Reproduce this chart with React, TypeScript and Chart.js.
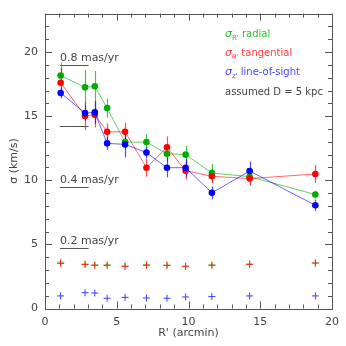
import React, { useEffect, useRef } from "react";
import { Chart, registerables } from "chart.js";
Chart.register(...registerables);

const radius = [1.09, 2.79, 3.47, 4.33, 5.58, 7.07, 8.5, 9.8, 11.63, 14.26, 18.84];
const sigmaR = [18.17, 17.25, 17.33, 15.63, 12.98, 12.98, 12.06, 12.0, 10.57, 10.28, 8.89];
const sigmaRErr = [1.0, 1.35, 1.2, 0.75, 0.5, 0.65, 0.6, 0.7, 0.7, 0.7, 0.3];
const sigmaT = [17.61, 15.01, 15.12, 13.78, 13.78, 10.98, 12.57, 10.75, 10.31, 10.13, 10.49];
const sigmaTErr = [1.15, 1.1, 1.0, 0.65, 0.7, 0.7, 0.85, 0.7, 0.55, 0.5, 0.7];
const sigmaZ = [16.81, 15.24, 15.3, 12.88, 12.8, 12.16, 10.98, 10.98, 9.02, 10.72, 8.05];
const sigmaZErr = [0.4, 0.6, 0.9, 0.5, 1.0, 0.45, 0.75, 0.7, 0.5, 0.75, 0.45];
const errLevelR = [3.62, 3.46, 3.4, 3.4, 3.3, 3.42, 3.37, 3.3, 3.4, 3.47, 3.55];
const errLevelT = [3.52, 3.44, 3.37, 3.37, 3.29, 3.37, 3.37, 3.29, 3.37, 3.44, 3.55];
const errLevelZ = [0.98, 1.23, 1.21, 0.8, 0.87, 0.82, 0.8, 0.9, 0.93, 0.98, 0.98];

const scaleBarValues = [18.96, 14.22, 9.48, 4.74];
const scaleBarLabels = ["0.8 mas/yr", "", "0.4 mas/yr", "0.2 mas/yr"];
const scaleBarX = [1.04, 3.04];

const xTickLabels = ["0", "5", "10", "15", "20"];
const yTickLabels = ["0", "5", "10", "15", "20"];

const GREEN = "rgb(0,170,0)";
const RED = "rgb(255,0,0)";
const BLUE = "rgb(0,0,255)";
const AXIS = "#555";
const TEXT = "#444";
const FONT = "'DejaVu Sans'";

const pts = (ys: number[]) => radius.map((x, i) => ({ x, y: ys[i] }));

export default function App() {
  const ref = useRef<HTMLCanvasElement>(null);
  useEffect(() => {
    document.body.style.margin = "0";
    const canvas = ref.current!;
    const errs = [
      { ys: sigmaR, es: sigmaRErr, c: "rgba(0,170,0,0.7)" },
      { ys: sigmaT, es: sigmaTErr, c: "rgba(255,0,0,0.7)" },
      { ys: sigmaZ, es: sigmaZErr, c: "rgba(0,0,255,0.7)" },
    ];
    const plugin = {
      id: "extras",
      beforeDatasetsDraw(chart: any) {
        const { ctx, scales } = chart;
        const xs = scales.x, ys = scales.y;
        ctx.save();
        ctx.lineWidth = 1.2;
        errs.forEach((s) => {
          ctx.strokeStyle = s.c;
          radius.forEach((r, i) => {
            const px = Math.round(xs.getPixelForValue(r)) + 0.5;
            ctx.beginPath();
            ctx.moveTo(px, ys.getPixelForValue(s.ys[i] - s.es[i]));
            ctx.lineTo(px, ys.getPixelForValue(s.ys[i] + s.es[i]));
            ctx.stroke();
          });
        });
        ctx.restore();
      },
      afterDraw(chart: any) {
        const { ctx, scales, chartArea } = chart;
        const xs = scales.x, ys = scales.y;
        const { left, right, top, bottom } = chartArea;
        ctx.save();
        ctx.strokeStyle = AXIS;
        ctx.lineWidth = 1;
        ctx.strokeRect(Math.round(left) + 0.5, Math.round(top) + 0.5, Math.round(right - left), Math.round(bottom - top));
        for (let v = 0; v <= 20; v++) {
          const px = Math.round(xs.getPixelForValue(v)) + 0.5;
          const len = v % 5 === 0 ? 7 : 4;
          ctx.beginPath();
          ctx.moveTo(px, bottom);
          ctx.lineTo(px, bottom - len);
          ctx.moveTo(px, top);
          ctx.lineTo(px, top + len);
          ctx.stroke();
        }
        for (let v = 0; v <= 23; v++) {
          const py = Math.round(ys.getPixelForValue(v)) + 0.5;
          const len = v % 5 === 0 ? 7 : 4;
          ctx.beginPath();
          ctx.moveTo(left, py);
          ctx.lineTo(left + len, py);
          ctx.moveTo(right, py);
          ctx.lineTo(right - len, py);
          ctx.stroke();
        }
        ctx.font = `11px ${FONT}`;
        ctx.fillStyle = TEXT;
        ctx.textBaseline = "alphabetic";
        scaleBarValues.forEach((v, i) => {
          const py = Math.round(ys.getPixelForValue(v)) + 0.5;
          const x0 = xs.getPixelForValue(scaleBarX[0]);
          const x1 = xs.getPixelForValue(scaleBarX[1]);
          ctx.beginPath();
          ctx.moveTo(x0, py);
          ctx.lineTo(x1, py);
          ctx.stroke();
          if (scaleBarLabels[i]) ctx.fillText(scaleBarLabels[i], x0, py - 5);
        });
        const lx = 225;
        const items = [
          { sub: "R'", rest: " radial", c: "rgb(40,190,40)", y: 37 },
          { sub: "\u03b8'", rest: " tangential", c: "rgb(255,60,60)", y: 56 },
          { sub: "z'", rest: " line-of-sight", c: "rgb(70,70,255)", y: 75 },
        ];
        items.forEach((it) => {
          ctx.fillStyle = it.c;
          ctx.font = `italic 11px ${FONT}`;
          ctx.fillText("\u03c3", lx, it.y);
          let x = lx + ctx.measureText("\u03c3").width;
          ctx.font = `7px ${FONT}`;
          ctx.fillText(it.sub, x, it.y + 3);
          x += ctx.measureText(it.sub).width;
          ctx.font = `10px ${FONT}`;
          ctx.fillText(it.rest, x, it.y);
        });
        ctx.fillStyle = TEXT;
        ctx.font = `10px ${FONT}`;
        ctx.fillText("assumed D = 5 kpc", lx, 95);
        ctx.restore();
      },
    };
    const lineDs = (label: string, ys: number[], c: string, order: number) => ({
      label,
      data: pts(ys),
      showLine: true,
      borderColor: c.replace("rgb", "rgba").replace(")", ",0.6)"),
      borderWidth: 1,
      backgroundColor: c,
      pointBackgroundColor: c,
      pointBorderColor: c,
      pointRadius: 3.3,
      pointBorderWidth: 0,
      order,
    });
    const crossDs = (label: string, ys: number[], c: string, order: number, w: number) => ({
      label,
      data: pts(ys),
      showLine: false,
      pointStyle: "cross",
      pointRadius: 3.5,
      pointBorderWidth: w,
      pointBorderColor: c,
      borderColor: c,
      backgroundColor: c,
      order,
    });
    const chart = new Chart(canvas, {
      type: "scatter",
      data: {
        datasets: [
          lineDs("radial", sigmaR, GREEN, 2),
          lineDs("tangential", sigmaT, RED, 1),
          lineDs("line-of-sight", sigmaZ, BLUE, 0),
          crossDs("err radial", errLevelR, "rgba(0,170,0,0.6)", 5, 1),
          crossDs("err tangential", errLevelT, "rgb(240,40,20)", 4, 1),
          crossDs("err los", errLevelZ, "rgb(60,60,255)", 3, 1),
        ] as any,
      },
      options: {
        animation: false,
        responsive: false,
        layout: { padding: { top: 9, right: 7, left: 0, bottom: 0 } },
        plugins: { legend: { display: false }, tooltip: { enabled: false } },
        scales: {
          x: {
            type: "linear",
            min: 0,
            max: 20,
            grid: { display: false, drawTicks: false },
            border: { display: false },
            ticks: {
              stepSize: 5,
              padding: 7,
              color: TEXT,
              font: { family: FONT, size: 11 },
              callback: (v: any) => (v % 5 === 0 ? xTickLabels[Math.round(v / 5)] ?? "" : ""),
            },
            title: {
              display: true,
              text: "R' (arcmin)",
              color: TEXT,
              font: { family: FONT, size: 11 },
              padding: { top: 0, bottom: 6 },
            },
            afterFit: (s: any) => {
              s.height = 37.5;
            },
          },
          y: {
            type: "linear",
            min: 0,
            max: 23,
            grid: { display: false, drawTicks: false },
            border: { display: false },
            ticks: {
              stepSize: 5,
              padding: 7,
              color: TEXT,
              font: { family: FONT, size: 11 },
              callback: (v: any) => (v % 5 === 0 ? yTickLabels[Math.round(v / 5)] ?? "" : ""),
            },
            title: {
              display: true,
              text: "\u03c3 (km/s)",
              color: TEXT,
              font: { family: FONT, size: 11 },
              padding: { top: 8, bottom: 8 },
            },
            afterFit: (s: any) => {
              s.width = 45;
            },
          },
        },
      } as any,
      plugins: [plugin],
    });
    return () => chart.destroy();
  }, []);
  return (
    <div style={{ width: 346, height: 346 }}>
      <canvas ref={ref} width={346} height={346} style={{ display: "block" }} />
    </div>
  );
}
